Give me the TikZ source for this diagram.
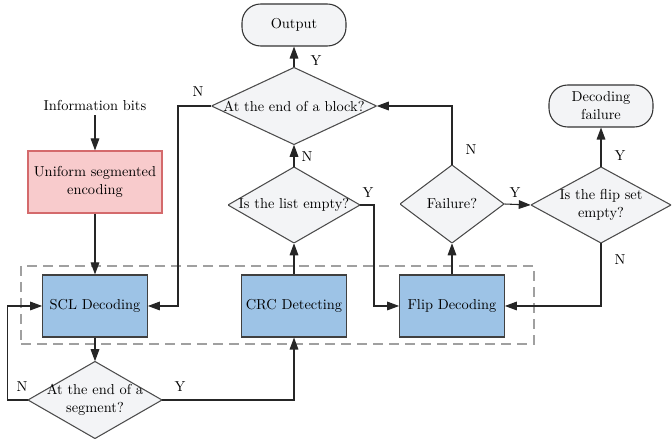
\documentclass[tikz,border=0pt]{standalone}
\usepackage{fontspec}
\usetikzlibrary{arrows.meta}
\definecolor{bluefill}{HTML}{9DC3E6}
\definecolor{pinkfill}{HTML}{F8CBCC}
\definecolor{pinkline}{HTML}{D46A6C}
\definecolor{diafill}{HTML}{F3F4F6}
\definecolor{groupline}{HTML}{A0A0A0}
\begin{document}
\begin{tikzpicture}[x=0.75pt,y=-0.75pt,
  font=\fontsize{10.8}{13.5}\selectfont,
  conn/.style={draw=black!85, line width=0.8pt},
  arr/.style={conn, -{Triangle[length=9pt,width=6.5pt]}},
  proc/.style={draw=black!75, fill=bluefill, line width=0.8pt, minimum width=78.5pt, minimum height=46.5pt, inner sep=0pt, align=center},
  enc/.style={draw=pinkline, fill=pinkfill, line width=0.9pt, minimum width=100.5pt, minimum height=46.5pt, inner sep=0pt, align=center},
  term/.style={draw=black!80, fill=diafill, line width=0.8pt, rounded corners=14pt, minimum width=78pt, minimum height=31.5pt, inner sep=0pt, align=center},
  dia/.style={inner sep=0pt, align=center, path picture={\draw[line width=0.8pt, draw=black!70, fill=diafill] (path picture bounding box.west) -- (path picture bounding box.north) -- (path picture bounding box.east) -- (path picture bounding box.south) -- cycle;}},
  group/.style={draw=groupline, line width=1.8pt, dash pattern=on 7.5pt off 4.5pt, minimum width=384.75pt, minimum height=58.5pt, inner sep=0pt},
  lbl/.style={inner sep=0pt}
]
\useasboundingbox (0,0) rectangle (672,441);

\node[group] (grp) at (277.5,305) {};

\node[term] (out) at (294,25) {Output};
\node[dia, minimum width=123.75pt, minimum height=57.75pt] (blk) at (294,106) {At the end of a block?};
\node[dia, minimum width=99pt, minimum height=57pt] (lst) at (294,205) {Is the list empty?};
\node[dia, minimum width=78pt, minimum height=58.5pt] (fail) at (452,204) {Failure?};
\node[dia, minimum width=105pt, minimum height=57pt] (fs) at (601,205) {Is the flip set\\empty?};
\node[term] (dfail) at (601,106) {Decoding\\failure};

\node[lbl] (info) at (95,106) {Information bits};
\node[enc] (enc) at (95,182) {Uniform segmented\\encoding};

\node[proc] (scl) at (95,306) {SCL Decoding};
\node[proc] (crc) at (294,306) {CRC Detecting};
\node[proc] (flip) at (452,306) {Flip Decoding};

\node[dia, minimum width=100.5pt, minimum height=57.75pt] (seg) at (95,400) {At the end of a\\segment?};

% connectors
\draw[arr] (info.south) ++(0,4) -- (enc.north);
\draw[arr] (enc.south) -- (scl.north);
\draw[arr] (scl.south) -- (seg.north);
\draw[arr] (seg.west) -- ++(-20,0) |- (scl.west);
\draw[arr] (seg.east) -| (crc.south);
\draw[arr] (crc.north) -- (lst.south);
\draw[arr] (lst.north) -- (blk.south);
\draw[arr] (blk.north) -- (out.south);
\draw[arr] (blk.west) -- (178,106) |- (scl.east);
\draw[arr] (lst.east) -- (374,205) |- (flip.west);
\draw[arr] (flip.north) -- (fail.south);
\draw[arr] (fail.north) |- (blk.east);
\draw[arr] (fail.east) -- (fs.west);
\draw[arr] (fs.north) -- (dfail.south);
\draw[arr] (fs.south) |- (flip.east);

% labels
\node[lbl] (yout) at (316,61) {Y};
\node[lbl] (nblk) at (198,92) {N};
\node[lbl] (nlst) at (307,157) {N};
\node[lbl] (nfail) at (471,150) {N};
\node[lbl] (ylst) at (368,193) {Y};
\node[lbl] (yfail) at (515,193) {Y};
\node[lbl] (yfs) at (620,156) {Y};
\node[lbl] (nfs) at (620,260) {N};
\node[lbl] (nseg) at (22,387) {N};
\node[lbl] (yseg) at (180,387) {Y};
\end{tikzpicture}
\end{document}
